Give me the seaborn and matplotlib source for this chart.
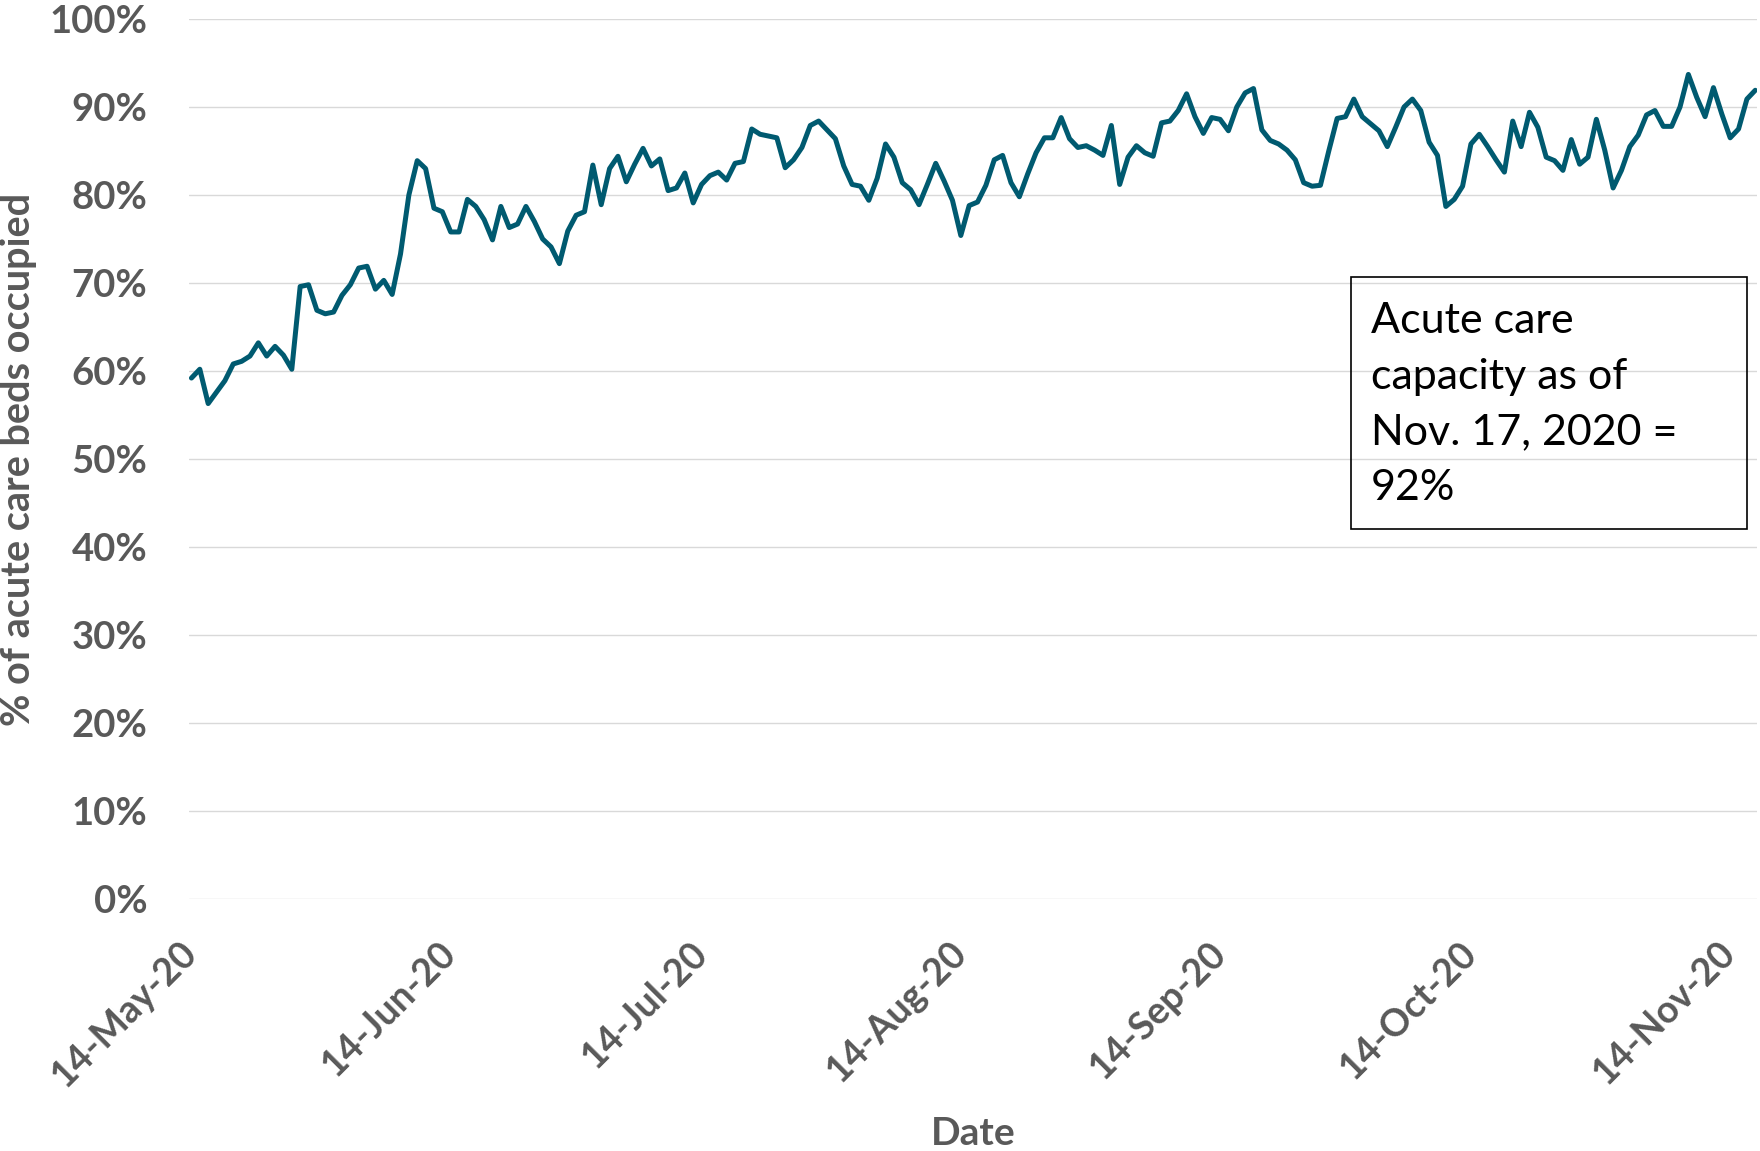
import pandas as pd
import numpy as np
import matplotlib
matplotlib.use("Agg")
import matplotlib.pyplot as plt
import matplotlib.dates as mdates
from matplotlib.patches import Rectangle
from matplotlib.ticker import FuncFormatter
import seaborn as sns

# Daily share of acute care beds occupied (%), 14 May 2020 - 17 Nov 2020
start_date = "2020-05-14"
occupancy = [
    59.2, 60.2, 56.3, 57.6, 58.9, 60.8, 61.1, 61.7, 63.2, 61.7,
    62.8, 61.8, 60.2, 69.6, 69.8, 66.9, 66.5, 66.7, 68.6, 69.8,
    71.7, 71.9, 69.3, 70.3, 68.7, 73.3, 80.0, 83.9, 83.0, 78.5,
    78.1, 75.8, 75.8, 79.5, 78.7, 77.2, 74.9, 78.7, 76.3, 76.7,
    78.7, 77.0, 75.0, 74.1, 72.2, 75.9, 77.7, 78.1, 83.4, 78.9,
    83.0, 84.4, 81.5, 83.5, 85.3, 83.3, 84.1, 80.5, 80.8, 82.5,
    79.1, 81.2, 82.2, 82.6, 81.7, 83.6, 83.8, 87.5, 86.9, 86.7,
    86.5, 83.1, 84.0, 85.4, 87.9, 88.4, 87.4, 86.4, 83.3, 81.2,
    81.0, 79.4, 81.9, 85.8, 84.3, 81.4, 80.6, 78.9, 81.2, 83.6,
    81.6, 79.4, 75.4, 78.8, 79.2, 81.1, 84.0, 84.5, 81.4, 79.8,
    82.4, 84.8, 86.5, 86.5, 88.8, 86.4, 85.4, 85.6, 85.1, 84.5,
    87.9, 81.2, 84.3, 85.6, 84.8, 84.4, 88.2, 88.4, 89.6, 91.5,
    88.9, 87.0, 88.8, 88.6, 87.3, 90.0, 91.6, 92.1, 87.4, 86.2,
    85.8, 85.1, 84.0, 81.4, 81.0, 81.1, 85.0, 88.7, 88.9, 90.9,
    88.9, 88.1, 87.3, 85.5, 87.7, 90.0, 90.9, 89.6, 86.0, 84.5,
    78.7, 79.5, 81.0, 85.8, 86.9, 85.5, 84.0, 82.6, 88.4, 85.5,
    89.4, 87.7, 84.3, 83.9, 82.8, 86.3, 83.5, 84.3, 88.6, 85.1,
    80.8, 82.8, 85.5, 86.8, 89.1, 89.6, 87.8, 87.8, 90.0, 93.7,
    91.1, 88.9, 92.2, 89.2, 86.5, 87.5, 90.9, 91.9,
]
tick_dates = ["2020-05-14", "2020-06-14", "2020-07-14", "2020-08-14",
              "2020-09-14", "2020-10-14", "2020-11-14"]
y_ticks = [0, 10, 20, 30, 40, 50, 60, 70, 80, 90, 100]
note_text = "Acute care\ncapacity as of\nNov. 17, 2020 =\n92%"

dates = pd.date_range(start_date, periods=len(occupancy), freq="D")
df = pd.DataFrame({"date": dates, "occupied": occupancy})

sns.set_style("white")
plt.rcParams["font.family"] = ["Lato", "DejaVu Sans"]

line_color = "#005A70"
text_gray = "#595959"

fig = plt.figure(figsize=(17.6, 11.51), dpi=100)
ax = fig.add_axes([0.10739, 0.21894, 0.89091, 0.76455])

sns.lineplot(data=df, x="date", y="occupied", color=line_color, linewidth=3.6, ax=ax)

ax.set_ylim(0, 100)
ax.set_xlim(dates[0] - pd.Timedelta(hours=7), dates[-1] + pd.Timedelta(hours=5))
ax.set_yticks(y_ticks)
ax.yaxis.set_major_formatter(FuncFormatter(lambda v, p: f"{v:.0f}%"))
ax.set_xticks(pd.to_datetime(tick_dates))
ax.xaxis.set_major_formatter(mdates.DateFormatter("%d-%b-%y"))

ax.grid(axis="y", color="#D9D9D9", linewidth=1.0)
ax.grid(axis="x", visible=False)
for s in ax.spines.values():
    s.set_visible(False)

ax.tick_params(axis="y", length=0, pad=30, labelsize=27.5, labelcolor=text_gray)
ax.tick_params(axis="x", length=0, pad=35, labelsize=27, labelcolor=text_gray)
for lab in ax.get_yticklabels():
    lab.set_fontweight("bold")
for lab in ax.get_xticklabels():
    lab.set_fontweight("bold")
    lab.set_rotation(45)
    lab.set_ha("right")
    lab.set_va("center")
    lab.set_rotation_mode("anchor")

ax.set_xlabel("Date", fontsize=28, fontweight="bold", color=text_gray, va="top")
ax.xaxis.set_label_coords(0.5, -0.247)
ax.set_ylabel("% of acute care beds occupied", fontsize=28.5, fontweight="bold", color=text_gray)
ax.yaxis.set_label_coords(-0.097, 0.5)

# annotation box
ax.add_patch(Rectangle((0.741, 0.4205), 0.2524, 0.2863, transform=ax.transAxes,
                       fill=False, edgecolor="black", linewidth=1.2, clip_on=False, zorder=5))
ax.text(0.7536, 0.6785, note_text, transform=ax.transAxes, fontsize=31, color="black",
        va="top", ha="left", linespacing=1.57, zorder=6)

fig.savefig("out.png", dpi=100)
